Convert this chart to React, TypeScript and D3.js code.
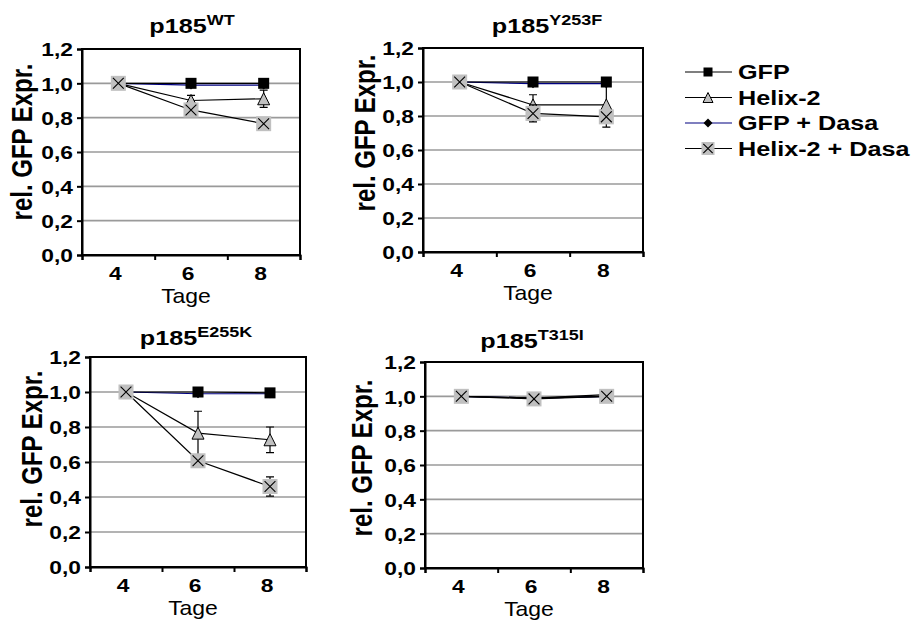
import React, { useEffect, useRef } from 'react';
import * as d3 from 'd3';

// days on the x axis
const days = [4, 6, 8]
const dayBounds = [3, 5, 7, 9]
const yTicks = [0, 0.2, 0.4, 0.6, 0.8, 1.0, 1.2]
const seriesNames = ['GFP', 'Helix-2', 'GFP + Dasa', 'Helix-2 + Dasa']

// p185 WT
const wtGfp = [1.0, 1.0, 1.0]
const wtHelix = [1.0, 0.90, 0.91]
const wtHelixErr = [0, 0.03, 0.05]
const wtGfpDasa = [1.0, 0.99, 0.99]
const wtHelixDasa = [1.0, 0.845, 0.765]
const wtHelixDasaErr = [0, 0.02, 0.02]

// p185 Y253F
const yfGfp = [1.0, 1.0, 1.0]
const yfHelix = [1.0, 0.865, 0.865]
const yfHelixErr = [0, 0.06, 0.13]
const yfGfpDasa = [1.0, 0.99, 0.99]
const yfHelixDasa = [1.0, 0.815, 0.795]
const yfHelixDasaErr = [0, 0.05, 0.01]

// p185 E255K
const ekGfp = [1.0, 1.0, 0.995]
const ekHelix = [1.0, 0.765, 0.727]
const ekHelixErr = [0, 0.125, 0.073]
const ekGfpDasa = [1.0, 0.99, 0.99]
const ekHelixDasa = [1.0, 0.607, 0.46]
const ekHelixDasaErr = [0, 0.02, 0.055]

// p185 T315I
const tiGfp = [1.0, 0.99, 1.01]
const tiHelix = [1.0, 0.99, 1.0]
const tiGfpDasa = [1.0, 0.99, 1.0]
const tiHelixDasa = [1.0, 0.985, 1.0]
const noErr = [0, 0, 0]

const FONT = 'Arial, "Liberation Sans", Helvetica, sans-serif'
const SX = 1.2

const panels = [
  { sup: 'WT', left: 82, top: 49, right: 300, bottom: 255, titleX: 192, titleY: 33, labX: 22, labY: 142,
    series: [[wtGfp, noErr], [wtHelix, wtHelixErr], [wtGfpDasa, noErr], [wtHelixDasa, wtHelixDasaErr]] },
  { sup: 'Y253F', left: 423, top: 48, right: 643, bottom: 252, titleX: 547, titleY: 33, labX: 365, labY: 133,
    series: [[yfGfp, noErr], [yfHelix, yfHelixErr], [yfGfpDasa, noErr], [yfHelixDasa, yfHelixDasaErr]] },
  { sup: 'E255K', left: 90, top: 357, right: 306, bottom: 567, titleX: 196, titleY: 345, labX: 32, labY: 449,
    series: [[ekGfp, noErr], [ekHelix, ekHelixErr], [ekGfpDasa, noErr], [ekHelixDasa, ekHelixDasaErr]] },
  { sup: 'T315I', left: 425, top: 362, right: 643, bottom: 568, titleX: 532, titleY: 348, labX: 362, labY: 458,
    series: [[tiGfp, noErr], [tiHelix, noErr], [tiGfpDasa, noErr], [tiHelixDasa, noErr]] },
]

const lineColors = ['#000', '#000', '#000080', '#000']
// GFP + Dasa sits under GFP in the panels
const drawOrder = [2, 0, 1, 3]

function drawMarker(g, kind, cx, cy, s) {
  if (kind === 0) {
    g.append('rect').attr('x', cx - s / 2).attr('y', cy - s / 2).attr('width', s).attr('height', s)
      .attr('fill', '#000')
  } else if (kind === 1) {
    const h = s
    g.append('path')
      .attr('d', `M${cx},${cy - h / 2} L${cx + s / 2},${cy + h / 2} L${cx - s / 2},${cy + h / 2} Z`)
      .attr('fill', '#c0c0c0').attr('stroke', '#000').attr('stroke-width', 1)
  } else if (kind === 2) {
    const r = s / 2
    g.append('path')
      .attr('d', `M${cx},${cy - r} L${cx + r},${cy} L${cx},${cy + r} L${cx - r},${cy} Z`)
      .attr('fill', '#000')
  } else {
    g.append('rect').attr('x', cx - s / 2).attr('y', cy - s / 2).attr('width', s).attr('height', s)
      .attr('fill', '#c0c0c0')
    const r = s * 0.36
    g.append('path')
      .attr('d', `M${cx - r},${cy - r} L${cx + r},${cy + r} M${cx + r},${cy - r} L${cx - r},${cy + r}`)
      .attr('stroke', '#000').attr('stroke-width', 1.1)
  }
}

const markerSizes = [11, 12, 9, 15]

function drawPanel(svg, p) {
  const x = d3.scaleLinear().domain([3, 9]).range([p.left, p.right])
  const y = d3.scaleLinear().domain([0, 1.2]).range([p.bottom, p.top])
  const g = svg.append('g')

  // gridlines
  g.selectAll('.grid').data(yTicks.filter(t => t > 0 && t < 1.2)).enter()
    .append('line')
    .attr('x1', p.left).attr('x2', p.right)
    .attr('y1', d => y(d)).attr('y2', d => y(d))
    .attr('stroke', '#9a9a9a').attr('stroke-width', 1.6)

  // frame
  g.append('rect').attr('x', p.left).attr('y', p.top)
    .attr('width', p.right - p.left).attr('height', p.bottom - p.top)
    .attr('fill', 'none').attr('stroke', '#000').attr('stroke-width', 2)

  // y axis
  const yAxis = g.append('g').attr('transform', `translate(${p.left},0)`)
    .call(d3.axisLeft(y).tickValues(yTicks).tickSize(5).tickFormat(d => d3.format('.1f')(d).replace('.', ',')))
  yAxis.select('.domain').attr('stroke-width', 2)
  yAxis.selectAll('.tick line').attr('stroke-width', 2)
  yAxis.selectAll('.tick text')
    .attr('x', null).attr('dy', null)
    .attr('dominant-baseline', 'central')
    .attr('transform', `translate(-9,0) scale(${SX},1)`)
    .attr('font-family', FONT).attr('font-weight', 'bold').attr('font-size', 19).attr('fill', '#000')

  // x axis
  const xAxis = g.append('g').attr('transform', `translate(0,${p.bottom})`)
    .call(d3.axisBottom(x).tickValues(dayBounds).tickSize(5).tickFormat(() => ''))
  xAxis.select('.domain').attr('stroke-width', 2)
  xAxis.selectAll('.tick line').attr('stroke-width', 2)

  g.selectAll('.xlab').data(days).enter()
    .append('text')
    .attr('transform', d => `translate(${x(d) - 3},${p.bottom + 24.5}) scale(${SX},1)`)
    .attr('text-anchor', 'middle')
    .attr('font-family', FONT).attr('font-weight', 'bold').attr('font-size', 19)
    .text(d => d)

  g.append('text')
    .attr('transform', `translate(${(p.left + p.right) / 2 - 5},${p.bottom + 48}) scale(1.12,1)`)
    .attr('text-anchor', 'middle')
    .attr('font-family', FONT).attr('font-size', 20.5)
    .text('Tage')

  // title
  const title = g.append('text')
    .attr('transform', `translate(${p.titleX},${p.titleY}) scale(${SX},1)`)
    .attr('text-anchor', 'middle')
    .attr('font-family', FONT).attr('font-weight', 'bold').attr('font-size', 21)
  title.append('tspan').text('p185')
  title.append('tspan').attr('font-size', 15).attr('dy', -8).text(p.sup)

  // y label
  g.append('text')
    .attr('transform', `translate(${p.labX},${p.labY}) scale(${SX},1) rotate(-90)`)
    .attr('text-anchor', 'middle').attr('dominant-baseline', 'central')
    .attr('font-family', FONT).attr('font-weight', 'bold').attr('font-size', 24)
    .text('rel. GFP Expr.')

  // series
  const line = d3.line().x((d, i) => x(days[i])).y(d => y(d))
  drawOrder.forEach(si => {
    const [vals, errs] = p.series[si]
    const sg = g.append('g')
    sg.append('path').attr('d', line(vals)).attr('fill', 'none')
      .attr('stroke', lineColors[si]).attr('stroke-width', 1.2)
    vals.forEach((v, i) => {
      const e = errs[i]
      if (e > 0) {
        const cx = x(days[i])
        sg.append('path')
          .attr('d', `M${cx},${y(v - e)} L${cx},${y(v + e)} M${cx - 4},${y(v + e)} L${cx + 4},${y(v + e)} M${cx - 4},${y(v - e)} L${cx + 4},${y(v - e)}`)
          .attr('stroke', '#000').attr('stroke-width', 1.2)
      }
    })
    vals.forEach((v, i) => drawMarker(sg, si, x(days[i]), y(v), markerSizes[si]))
  })
}

function drawLegend(svg) {
  const g = svg.append('g')
  const rowY = d3.scalePoint().domain(seriesNames).range([72, 148.5])
  seriesNames.forEach((name, i) => {
    const cy = rowY(name)
    g.append('line').attr('x1', 685).attr('x2', 732).attr('y1', cy).attr('y2', cy)
      .attr('stroke', lineColors[i]).attr('stroke-width', 1.2)
    drawMarker(g, i, 708, cy, [9, 10, 9, 13][i])
    g.append('text')
      .attr('transform', `translate(738,${cy}) scale(${SX},1)`)
      .attr('dominant-baseline', 'central')
      .attr('font-family', FONT).attr('font-weight', 'bold').attr('font-size', 21)
      .text(name)
  })
}

export default function App() {
  const ref = useRef(null)

  useEffect(() => {
    const svg = d3.select(ref.current)
    svg.selectAll('*').remove()
    panels.forEach(p => drawPanel(svg, p))
    drawLegend(svg)
  }, [])

  return (
    <svg ref={ref} width={914} height={626}
      style={{ position: 'absolute', left: 0, top: 0, background: '#fff' }} />
  )
}
